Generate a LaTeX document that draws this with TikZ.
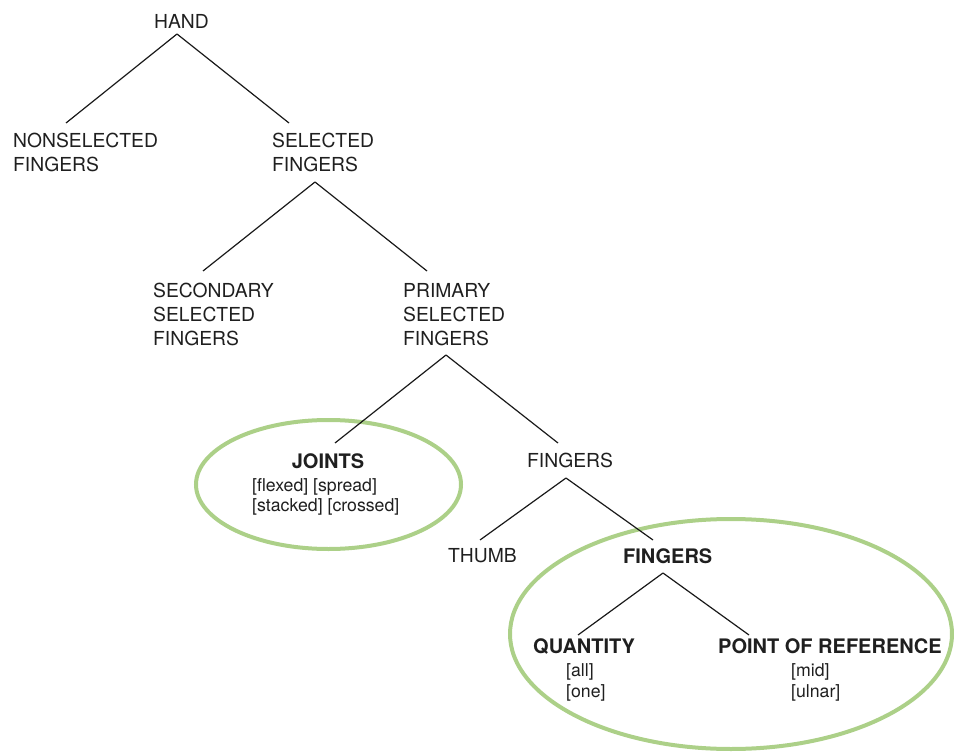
\documentclass[tikz,border=0pt]{standalone}
\usepackage{fontspec}
\setmainfont{TeX Gyre Heros}
\begin{document}
\begin{tikzpicture}[x=1pt,y=-1pt,
  every node/.style={inner sep=0pt,text=black!88},
  lbl/.style={anchor=north west,align=left,font=\fontsize{19.3}{24}\selectfont},
  head/.style={anchor=north west,font=\fontsize{20}{24}\selectfont\bfseries},
  opts/.style={anchor=north west,align=left,font=\fontsize{17.7}{20}\selectfont},
  edge/.style={draw=black!90,line width=1.2pt},
  ring/.style={draw=ringgreen,line width=4pt}]
\definecolor{ringgreen}{RGB}{172,208,136}
\useasboundingbox (0,0) rectangle (954,752);

% highlight rings
\draw[ring] (328.5,484.5) ellipse [x radius=132.5, y radius=64.5];
\draw[ring] (731,634) ellipse [x radius=221, y radius=115];

% labels
\node[font=\fontsize{19.3}{24}\selectfont] (hand) at (181.5,21) {HAND};
\node[lbl] (nonsel) at (13,133) {NONSELECTED\\FINGERS};
\node[lbl] (sel) at (272,133) {SELECTED\\FINGERS};
\node[lbl] (sec) at (153,283) {SECONDARY\\SELECTED\\FINGERS};
\node[lbl] (prim) at (403,283) {PRIMARY\\SELECTED\\FINGERS};
\node[head,anchor=north] (joints) at (328,453) {JOINTS};
\node[opts] (jointsopt) at (252,478) {[flexed] [spread]\\{}[stacked] [crossed]};
\node[lbl] (fing) at (527,453) {FINGERS};
\node[lbl] (thumb) at (448,548) {THUMB};
\node[head] (fingb) at (623,548) {FINGERS};
\node[head] (quant) at (533,638) {QUANTITY};
\node[opts,font=\fontsize{17.7}{21.5}\selectfont] (quantopt) at (566,663) {[all]\\{}[one]};
\node[head] (por) at (718,638) {POINT OF REFERENCE};
\node[opts,font=\fontsize{17.7}{21.5}\selectfont] (poropt) at (791,663) {[mid]\\{}[ulnar]};

% tree branches
\draw[edge] ([shift={(-4.5,13)}]hand.center) -- ([shift={(53,-10)}]nonsel.north west);
\draw[edge] ([shift={(-4.5,13)}]hand.center) -- ([shift={(17,-10)}]sel.north west);
\draw[edge] ([shift={(43,49)}]sel.north west) -- ([shift={(50,-12)}]sec.north west);
\draw[edge] ([shift={(43,49)}]sel.north west) -- ([shift={(24,-12)}]prim.north west);
\draw[edge] ([shift={(43,72)}]prim.north west) -- ([shift={(7,-10)}]joints.north);
\draw[edge] ([shift={(43,72)}]prim.north west) -- ([shift={(31,-10)}]fing.north west);
\draw[edge] ([shift={(39,25)}]fing.north west) -- ([shift={(32,-8)}]thumb.north west);
\draw[edge] ([shift={(39,25)}]fing.north west) -- ([shift={(30,-8)}]fingb.north west);
\draw[edge] ([shift={(40,25)}]fingb.north west) -- ([shift={(45,-3)}]quant.north west);
\draw[edge] ([shift={(40,25)}]fingb.north west) -- ([shift={(31,-3)}]por.north west);
\end{tikzpicture}
\end{document}
